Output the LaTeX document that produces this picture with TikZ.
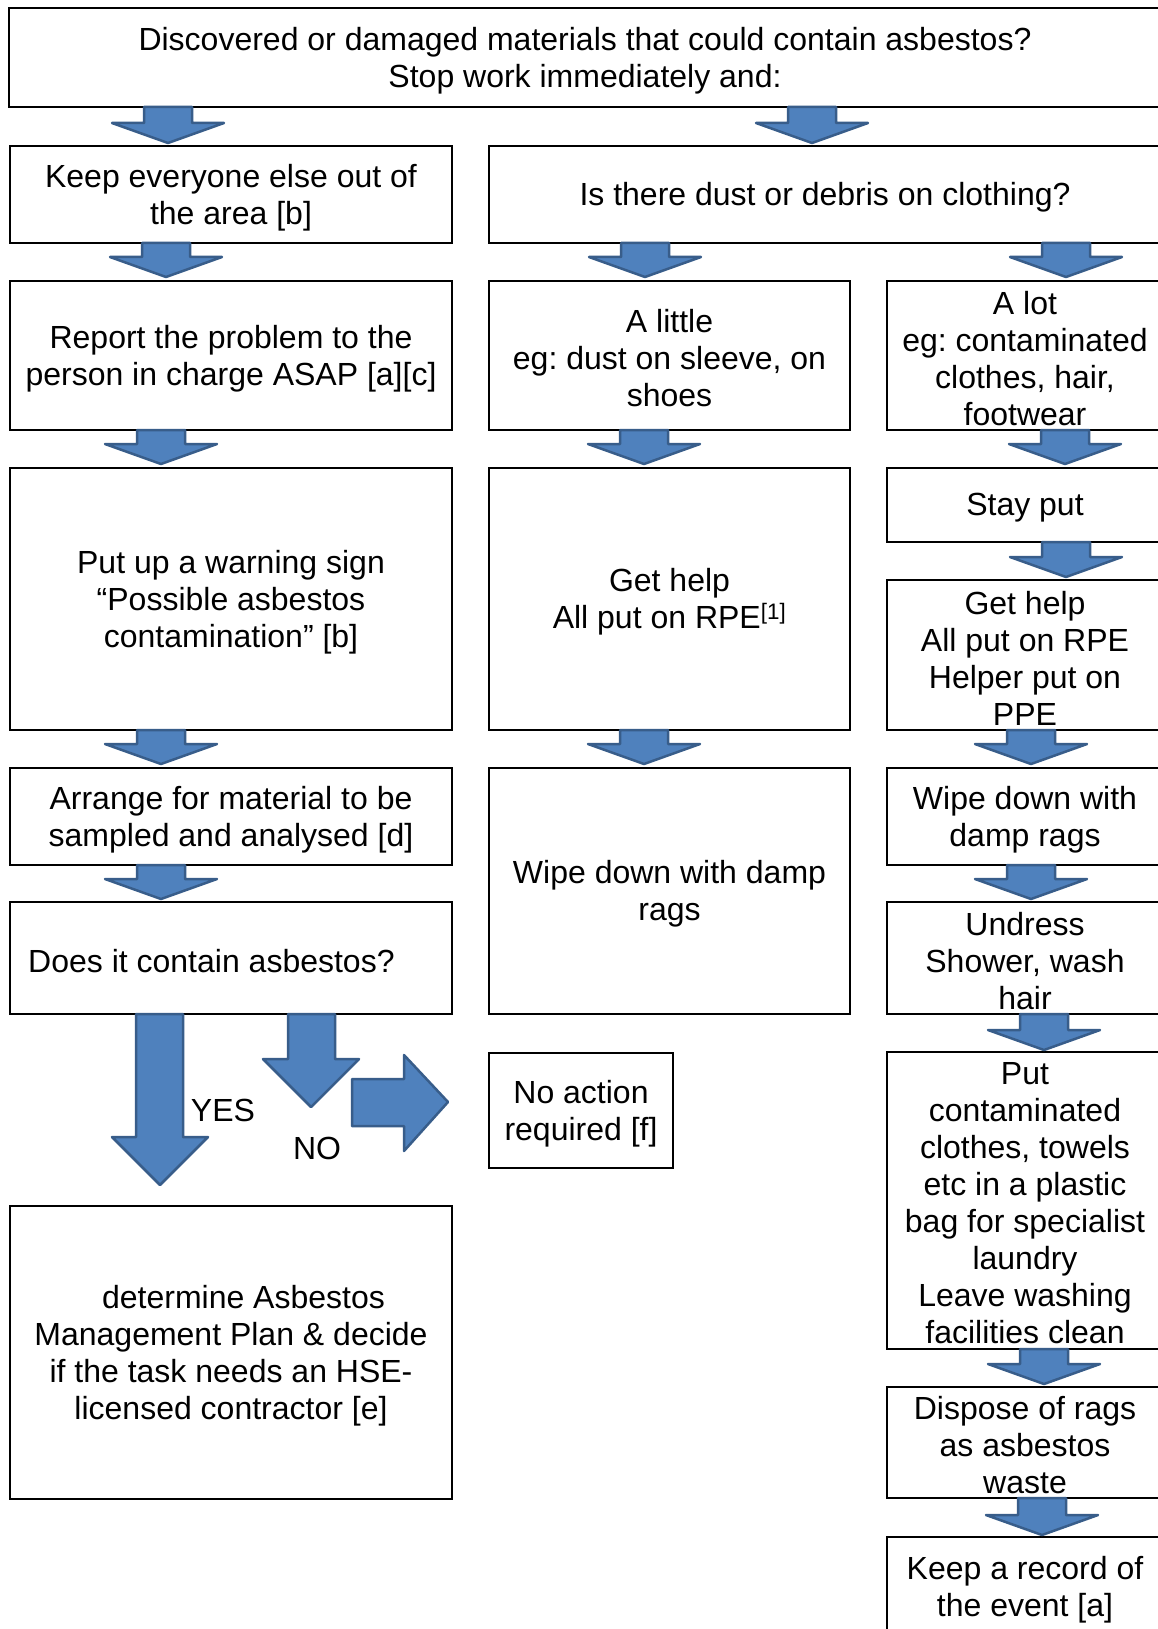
\documentclass[tikz,border=0pt]{standalone}
\usepackage{fontspec}
\setmainfont{Liberation Sans}
\frenchspacing
\definecolor{afill}{HTML}{4F81BD}
\definecolor{aline}{HTML}{385D8A}
\tikzset{
  boxst/.style={draw=black, line width=2.5pt, inner sep=0pt, rectangle},
  lbl/.style={inner sep=0pt, align=center, font=\fontsize{32}{37}\selectfont},
  txt/.style={lbl, yshift=-3pt},
  barrow/.style={fill=afill, draw=aline, line width=2.5pt, line join=round},
}
\newcommand\mybox[6]{%
  \node[boxst, minimum width={#4-#2}, minimum height={#5-#3}] (#1) at ({(#2+#4)/2},{(#3+#5)/2}) {};
  \node[txt] (#1-t) at (#1.center) {#6};}
\newcommand\darr[3]{%
  \draw[barrow] ({#1-24},#2) -- ({#1+24},#2) -- ({#1+24},{#3-20}) -- ({#1+56},{#3-20})
    -- (#1,#3) -- ({#1-56},{#3-20}) -- ({#1-24},{#3-20}) -- cycle;}
\begin{document}
\begin{tikzpicture}[x=1pt,y=-1pt]
\useasboundingbox (0,0) rectangle (1158,1629);
\clip (0,0) rectangle (1158,1629);
\fill[white] (0,0) rectangle (1158,1629);

% boxes with text
\mybox{top}{9}{8}{1161}{107}{Discovered or damaged materials that could contain asbestos?\\Stop work immediately and:}
\mybox{keep}{10}{146}{452}{243}{Keep everyone else out of\\the area [b]}
\mybox{dust}{489}{146}{1161}{243}{Is there dust or debris on clothing?}
\mybox{report}{10}{281}{452}{430}{Report the problem to the\\person in charge ASAP [a][c]}
\mybox{little}{489}{281}{850}{430}{A little\\eg: dust on sleeve, on\\shoes}
\mybox{lot}{887}{281}{1163}{430}{A lot\\eg: contaminated\\clothes, hair,\\footwear}
\mybox{warn}{10}{468}{452}{730}{Put up a warning sign\\“Possible asbestos\\contamination” [b]}
\mybox{helpm}{489}{468}{850}{730}{Get help\\All put on RPE\textsuperscript{[1]}}
\mybox{stay}{887}{468}{1163}{542}{Stay put}
\mybox{helpr}{887}{580}{1163}{730}{Get help\\All put on RPE\\Helper put on\\PPE}
\mybox{arrange}{10}{768}{452}{865}{Arrange for material to be\\sampled and analysed [d]}
\mybox{wipem}{489}{768}{850}{1014}{Wipe down with damp\\rags}
\mybox{wiper}{887}{768}{1163}{865}{Wipe down with\\damp rags}
\node[boxst, minimum width=442, minimum height=112] (does) at (231,958) {};
\node[txt, anchor=west] (does-t) at (28,958) {Does it contain asbestos?};
\mybox{undress}{887}{902}{1163}{1014}{Undress\\Shower, wash\\hair}
\mybox{noact}{489}{1053}{673}{1168}{No action\\required [f]}
\mybox{put}{887}{1052}{1163}{1349}{Put\\contaminated\\clothes, towels\\etc in a plastic\\bag for specialist\\laundry\\Leave washing\\facilities clean}
\mybox{dispose}{887}{1387}{1163}{1498}{Dispose of rags\\as asbestos\\waste}
\mybox{record}{887}{1537}{1163}{1636}{Keep a record of\\the event [a]}
\mybox{determine}{10}{1206}{452}{1499}{\hspace*{25pt}determine Asbestos\\Management Plan \& decide\\if the task needs an HSE-\\licensed contractor [e]}

% block arrows
\darr{168}{107}{143}
\darr{812}{107}{143}
\darr{166}{243}{277}
\darr{645}{243}{277}
\darr{1066}{243}{277}
\darr{161}{430}{464}
\darr{644}{430}{464}
\darr{1065}{430}{464}
\darr{1066}{542}{577}
\darr{161}{730}{764}
\darr{644}{730}{764}
\darr{1031}{730}{764}
\darr{161}{865}{899}
\darr{1031}{865}{899}
\darr{1044}{1014}{1050}
\darr{1044}{1349}{1384}
\darr{1042}{1498}{1535}

% YES / NO arrows
\draw[barrow] (136,1014) -- (183,1014) -- (183,1137) -- (208,1137) -- (160,1185)
  -- (112,1137) -- (136,1137) -- cycle;
\draw[barrow] (288,1014) -- (335,1014) -- (335,1059) -- (359,1059) -- (311,1107)
  -- (263,1059) -- (288,1059) -- cycle;
\draw[barrow] (352,1079) -- (404,1079) -- (404,1055) -- (448,1102) -- (404,1151)
  -- (404,1126) -- (352,1126) -- cycle;
\node[lbl] (yes) at (223,1110) {YES};
\node[lbl] (no) at (317,1148) {NO};
\end{tikzpicture}
\end{document}
